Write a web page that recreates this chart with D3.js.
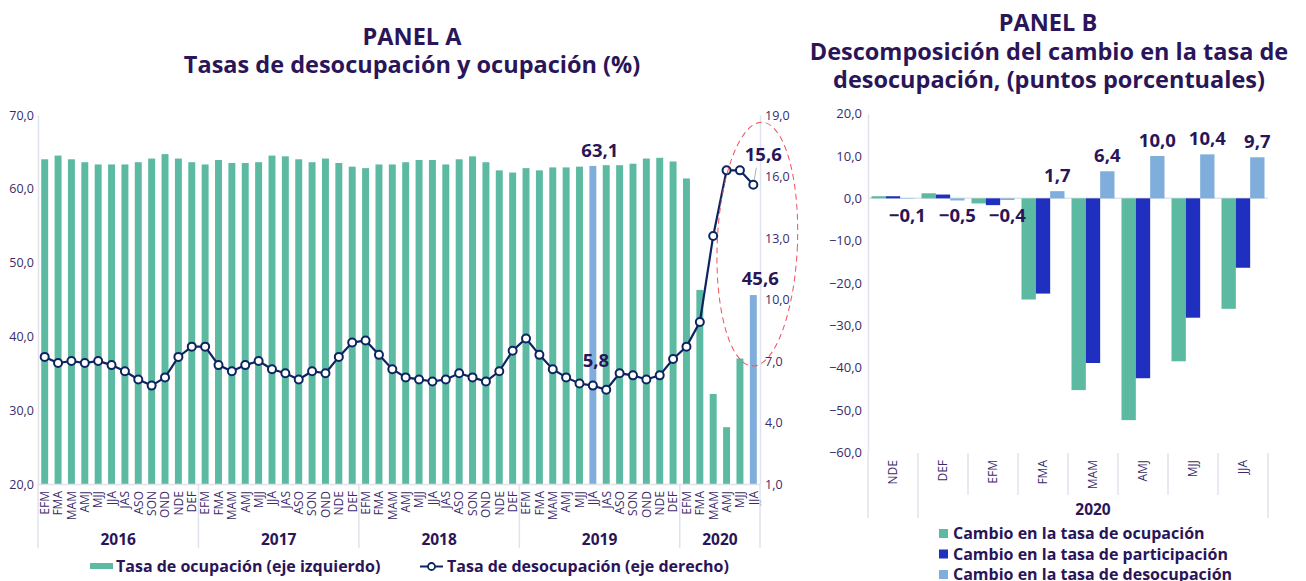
<!DOCTYPE html>
<html><head><meta charset="utf-8">
<script src="https://cdn.jsdelivr.net/npm/d3@7"></script>
<style>
body{margin:0;background:#fff;}
svg{font-family:"Open Sans",sans-serif;}
</style></head><body>
<svg id="c" width="1306" height="581"></svg>
<script>
// ---------- DATA ----------
const years = ["2016","2017","2018","2019","2020"];
const monthLabels = ["EFM","FMA","MAM","AMJ","MJJ","JJA","JAS","ASO","SON","OND","NDE","DEF"];
const monthsPerYear = [12,12,12,12,6];
const ocupacion = [64.0,64.5,64.0,63.6,63.3,63.3,63.3,63.6,64.1,64.7,64.1,63.6,
                   63.3,63.9,63.5,63.5,63.6,64.5,64.4,64.0,63.6,64.1,63.5,63.0,
                   62.8,63.3,63.3,63.6,63.9,63.9,63.3,64.0,64.4,63.6,62.5,62.2,
                   62.8,62.5,62.9,62.9,63.0,63.1,63.2,63.2,63.4,64.1,64.2,63.7,
                   61.4,46.3,32.2,27.7,37.0,45.6];
const desocupacion = [7.2,6.9,7.0,6.9,7.0,6.8,6.5,6.1,5.8,6.2,7.2,7.7,
                      7.7,6.8,6.5,6.8,7.0,6.6,6.4,6.1,6.5,6.4,7.2,7.9,
                      8.0,7.3,6.6,6.2,6.1,6.0,6.1,6.4,6.2,6.0,6.5,7.5,
                      8.1,7.3,6.6,6.2,5.9,5.8,5.6,6.4,6.3,6.1,6.3,7.1,
                      7.7,8.9,13.1,16.3,16.3,15.6];
const highlighted = ["2019-JJA","2020-JJA"];
const leftTicks = [20,30,40,50,60,70];
const rightTicks = [1,4,7,10,13,16,19];

const catsB = ["NDE","DEF","EFM","FMA","MAM","AMJ","MJJ","JJA"];
const seriesB = ["Cambio en la tasa de ocupación","Cambio en la tasa de participación","Cambio en la tasa de desocupación"];
const cambioOcupacion = [0.5,1.2,-1.2,-23.9,-45.3,-52.4,-38.5,-26.1];
const cambioParticipacion = [0.5,0.9,-1.6,-22.5,-38.9,-42.5,-28.2,-16.4];
const cambioDesocupacion = [-0.1,-0.5,-0.4,1.7,6.4,10.0,10.4,9.7];
const yearGroupsB = [{label:"", from:"NDE", to:"NDE"},{label:"2020", from:"DEF", to:"JJA"}];
const ticksB = [-60,-50,-40,-30,-20,-10,0,10,20];

// ---------- STYLE ----------
const TXT="#2a1558", TICK="#3b2a6b", AX="#dfe4ec";
const GREEN="#5dbaa2", LBLUE="#80aedc", DBLUE="#1f2fbf", NAVY="#0d2460", RED="#f0525e";
const fmt = d => d3.format(".1f")(d).replace(".",",");
const TITLE_FS = 23.5;

const svg = d3.select("#c");

// ---------- PANEL A ----------
const cats = [];
years.forEach((y,i)=>{ for(let m=0;m<monthsPerYear[i];m++) cats.push({year:y, per:monthLabels[m], key:y+"-"+monthLabels[m]}); });
cats.forEach((c,i)=>{ c.ocu = ocupacion[i]; c.des = desocupacion[i]; });

const x = d3.scaleBand().domain(cats.map(d=>d.key)).range([38,760]).paddingInner(0.48).paddingOuter(0.24);
const yL = d3.scaleLinear().domain([20,70]).range([484,115]);
const yR = d3.scaleLinear().domain([1,19]).range([484,115]);
const xc = k => x(k) + x.bandwidth()/2;

const gA = svg.append("g");

// titles
gA.append("text").attr("x",412).attr("y",45).attr("text-anchor","middle").attr("fill",TXT)
  .attr("font-weight",700).attr("font-size",TITLE_FS).text("PANEL A");
gA.append("text").attr("x",412).attr("y",73).attr("text-anchor","middle").attr("fill",TXT)
  .attr("font-weight",700).attr("font-size",TITLE_FS).text("Tasas de desocupación y ocupación (%)");

// bars
gA.append("g").selectAll("rect").data(cats).join("rect")
  .attr("x",d=>x(d.key)).attr("width",x.bandwidth())
  .attr("y",d=>yL(d.ocu)).attr("height",d=>yL(20)-yL(d.ocu))
  .attr("fill",d=>highlighted.includes(d.key)?LBLUE:GREEN);

// axes
const axL = gA.append("g").attr("transform","translate(38,0)")
  .call(d3.axisLeft(yL).tickValues(leftTicks).tickFormat(fmt).tickSize(0).tickPadding(4));
const axR = gA.append("g").attr("transform","translate(760,0)")
  .call(d3.axisRight(yR).tickValues(rightTicks).tickFormat(fmt).tickSize(0).tickPadding(5));
const axB = gA.append("g").attr("transform","translate(0,484)")
  .call(d3.axisBottom(x).tickFormat(k=>k.split("-")[1]).tickSize(0));
[axL,axR,axB].forEach(a=>{
  a.select(".domain").attr("stroke",AX).attr("stroke-width",1.5);
  a.selectAll("text").attr("fill",TICK).attr("font-family","Open Sans").attr("font-size",12.5);
});
axB.selectAll("text").attr("transform","rotate(-90)").attr("x",-7).attr("y",0).attr("dy","0.36em")
  .attr("text-anchor","end").attr("font-size",12);

// year dividers + labels
const step = x.step();
const yearStart = [];
let acc = 0;
years.forEach((y,i)=>{ yearStart.push(cats[acc].key); acc += monthsPerYear[i]; });
const bounds = yearStart.map(k=>xc(k)-step/2).concat([xc(cats[cats.length-1].key)+step/2]);
gA.append("g").selectAll("line").data(bounds).join("line")
  .attr("x1",d=>d).attr("x2",d=>d).attr("y1",484).attr("y2",548)
  .attr("stroke",AX).attr("stroke-width",1.5);
gA.append("g").selectAll("text").data(years).join("text")
  .attr("x",(d,i)=>(bounds[i]+bounds[i+1])/2).attr("y",545).attr("text-anchor","middle")
  .attr("fill",TXT).attr("font-weight",700).attr("font-size",15.5).text(d=>d);

// line
const line = d3.line().x(d=>xc(d.key)).y(d=>yR(d.des));
gA.append("path").datum(cats).attr("d",line).attr("fill","none").attr("stroke",NAVY).attr("stroke-width",2.2);
gA.append("g").selectAll("circle").data(cats).join("circle")
  .attr("cx",d=>xc(d.key)).attr("cy",d=>yR(d.des)).attr("r",4)
  .attr("fill","#fff").attr("stroke",NAVY).attr("stroke-width",2);

// red ellipse annotation
const lastKey = cats[cats.length-1].key;
const ecx = xc(lastKey)+4, ecy = yR(12.7);
gA.append("ellipse").attr("cx",ecx).attr("cy",ecy).attr("rx",step*3).attr("ry",(yR(6.9)-yR(18.8))/2)
  .attr("transform",`rotate(2.3,${ecx},${ecy})`)
  .attr("fill","none").attr("stroke",RED).attr("stroke-width",1).attr("stroke-dasharray","6,4");

// data labels
const lab = (xx,yy,t)=>gA.append("text").attr("x",xx).attr("y",yy).attr("text-anchor","middle")
  .attr("fill",TXT).attr("font-weight",700).attr("font-size",18.5).text(t);
const i41 = cats.findIndex(d=>d.key==="2019-JJA");
const i53 = cats.length-1;
lab(xc(cats[i41].key)+7, yL(cats[i41].ocu)-9, fmt(cats[i41].ocu));
lab(xc(lastKey)+7, yL(cats[i53].ocu)-10, fmt(cats[i53].ocu));
lab(xc(lastKey)+10, yR(cats[i53].des)-24, fmt(cats[i53].des));
lab(xc(cats[i41].key)+3, yR(cats[i41].des)-19, fmt(cats[i41].des));
gA.append("line").attr("x1",xc(lastKey)+1).attr("y1",yR(cats[i53].des)-5)
  .attr("x2",xc(lastKey)+3).attr("y2",yR(cats[i53].des)-17).attr("stroke","#999").attr("stroke-width",0.8);

// legend A
gA.append("rect").attr("x",90).attr("y",563).attr("width",23).attr("height",6).attr("fill",GREEN);
gA.append("text").attr("x",116).attr("y",572).attr("fill",TXT).attr("font-weight",700).attr("font-size",16)
  .text("Tasa de ocupación (eje izquierdo)");
gA.append("line").attr("x1",420).attr("x2",443).attr("y1",566.5).attr("y2",566.5).attr("stroke",NAVY).attr("stroke-width",2);
gA.append("circle").attr("cx",431.5).attr("cy",566.5).attr("r",3.5).attr("fill","#fff").attr("stroke",NAVY).attr("stroke-width",1.8);
gA.append("text").attr("x",447).attr("y",572).attr("fill",TXT).attr("font-weight",700).attr("font-size",16)
  .text("Tasa de desocupación (eje derecho)");

// ---------- PANEL B ----------
const gB = svg.append("g");
gB.append("text").attr("x",1048).attr("y",31).attr("text-anchor","middle").attr("fill",TXT)
  .attr("font-weight",700).attr("font-size",TITLE_FS).text("PANEL B");
gB.append("text").attr("x",1049).attr("y",60).attr("text-anchor","middle").attr("fill",TXT)
  .attr("font-weight",700).attr("font-size",TITLE_FS).text("Descomposición del cambio en la tasa de");
gB.append("text").attr("x",1049).attr("y",88).attr("text-anchor","middle").attr("fill",TXT)
  .attr("font-weight",700).attr("font-size",TITLE_FS).text("desocupación, (puntos porcentuales)");

const xB = d3.scaleBand().domain(catsB).range([868,1268]).paddingInner(0.14).paddingOuter(0.07);
const x1 = d3.scaleBand().domain(seriesB).range([0,xB.bandwidth()]);
const yB = d3.scaleLinear().domain([-60,20]).range([452.3,113.7]);
const colorsB = d3.scaleOrdinal().domain(seriesB).range([GREEN,DBLUE,LBLUE]);
const valsB = [cambioOcupacion,cambioParticipacion,cambioDesocupacion];
const rowsB = catsB.map((c,i)=>({cat:c, vals:seriesB.map((s,j)=>({s, v:valsB[j][i]}))}));

const axLB = gB.append("g").attr("transform","translate(868,0)")
  .call(d3.axisLeft(yB).tickValues(ticksB).tickFormat(fmt).tickSize(0).tickPadding(6));
axLB.select(".domain").attr("stroke",AX).attr("stroke-width",1.5);
axLB.selectAll("text").attr("fill",TICK).attr("font-family","Open Sans").attr("font-size",13);

gB.append("line").attr("x1",868).attr("x2",1268).attr("y1",yB(0)).attr("y2",yB(0)).attr("stroke",AX).attr("stroke-width",1.5);

gB.append("g").selectAll("g").data(rowsB).join("g").attr("transform",d=>`translate(${xB(d.cat)},0)`)
  .selectAll("rect").data(d=>d.vals).join("rect")
  .attr("x",d=>x1(d.s)).attr("width",x1.bandwidth())
  .attr("y",d=>yB(Math.max(0,d.v))).attr("height",d=>Math.abs(yB(d.v)-yB(0)))
  .attr("fill",d=>colorsB(d.s));

// desocupación labels
gB.append("g").selectAll("text").data(rowsB).join("text")
  .attr("x",d=>xB(d.cat)+x1(seriesB[2])+x1.bandwidth()/2)
  .attr("y",d=>{const v=d.vals[2].v; return v>=0? yB(v)-9 : yB(0)+24;})
  .attr("text-anchor","middle").attr("fill",TXT).attr("font-weight",700).attr("font-size",18.5)
  .text(d=>fmt(d.vals[2].v));

// bottom axis
const axBB = gB.append("g").attr("transform","translate(0,452)")
  .call(d3.axisBottom(xB).tickSize(0));
axBB.select(".domain").remove();
axBB.selectAll("text").attr("transform","rotate(-90)").attr("x",-8).attr("y",0).attr("dy","0.36em")
  .attr("text-anchor","end").attr("fill",TICK).attr("font-family","Open Sans").attr("font-size",12);

const stepB = xB.step();
const boundsB = catsB.map(c=>xB(c)+xB.bandwidth()/2-stepB/2).concat([xB(catsB[catsB.length-1])+xB.bandwidth()/2+stepB/2]);
const longB = new Set([0,1,boundsB.length-1]);
gB.append("g").selectAll("line").data(boundsB).join("line")
  .attr("x1",d=>d).attr("x2",d=>d).attr("y1",453).attr("y2",(d,i)=>longB.has(i)?518:495)
  .attr("stroke",AX).attr("stroke-width",1.5);
gB.append("g").selectAll("text").data(yearGroupsB).join("text")
  .attr("x",d=>(xB(d.from)+xB(d.to)+xB.bandwidth())/2).attr("y",515).attr("text-anchor","middle")
  .attr("fill",TXT).attr("font-weight",700).attr("font-size",15.5).text(d=>d.label);

// legend B
const lgB = gB.append("g").selectAll("g").data(seriesB).join("g")
  .attr("transform",(d,i)=>`translate(939,${533.5+i*20.5})`);
lgB.append("rect").attr("x",0).attr("y",-4.5).attr("width",9).attr("height",9).attr("fill",d=>colorsB(d));
lgB.append("text").attr("x",14).attr("y",5.5).attr("fill",TXT).attr("font-weight",700).attr("font-size",16).text(d=>d);
</script>
</body></html>
